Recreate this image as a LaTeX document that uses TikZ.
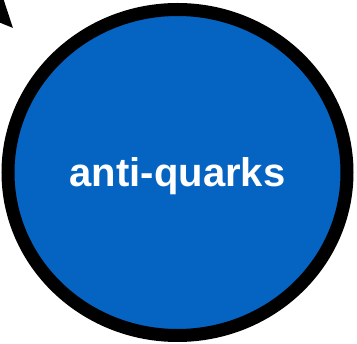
\documentclass[tikz,border=0pt]{standalone}
\usepackage{fontspec}
\setsansfont{Liberation Sans}
\usepackage{tikz}
\usetikzlibrary{arrows.meta,shapes.geometric,shadows}

\definecolor{quarkblue}{RGB}{5,99,193}

\tikzset{
  particle/.style={ellipse, draw=black, line width=13pt, fill=quarkblue,
    inner sep=0pt, minimum width=339pt, minimum height=326pt,
    text=white, font=\sffamily\bfseries\fontsize{40}{48}\selectfont,
    text height=36pt, text depth=8pt,
    drop shadow={shadow xshift=-1pt, shadow yshift=-3pt, opacity=0.35}},
  feed/.style={line width=4pt, -{Triangle[length=40pt, width=36pt]}}
}

\begin{document}
\begin{tikzpicture}[x=1pt, y=-1pt]
  \useasboundingbox (0,0) rectangle (357,344);
  \begin{scope}
    \clip (0,0) rectangle (357,344);
    % the circle
    \node[particle] (antiq) at (177.5,172.5) {anti-quarks};
    % incoming arrow, mostly off the page
    \coordinate (src) at (-45,-34);
    \coordinate (tip) at (13,28);
    \draw[feed] (src) -- (tip);
  \end{scope}
\end{tikzpicture}
\end{document}
